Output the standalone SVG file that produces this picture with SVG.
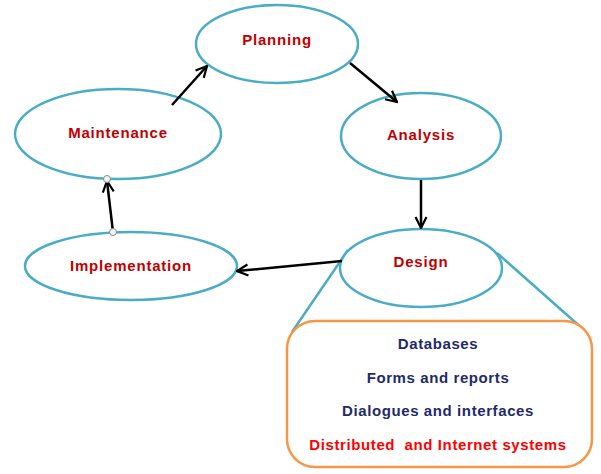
<svg xmlns="http://www.w3.org/2000/svg" width="601" height="474" viewBox="0 0 601 474">
<style>
.node ellipse{fill:#fff;stroke:#4bacc6;stroke-width:2.5}
.lbl{font-family:"Liberation Sans",Arial,sans-serif;font-weight:bold;font-size:15px;letter-spacing:0.8px;fill:#c00000;text-anchor:middle}
.item{font-family:"Liberation Sans",Arial,sans-serif;font-weight:bold;font-size:15px;letter-spacing:0.6px;fill:#1f2a6b;text-anchor:middle}
.conn line{stroke:#000;stroke-width:2.5;marker-end:url(#ah)}
</style>
<defs>
<marker id="ah" viewBox="0 0 10 10" refX="9" refY="5" markerWidth="5.5" markerHeight="5.5" markerUnits="strokeWidth" orient="auto">
<path d="M1,1 L9,5 L1,9" fill="none" stroke="#000" stroke-width="1.6"/>
</marker>
</defs>
<rect width="601" height="474" fill="#fff"/>
<g id="zoom-lines" fill="none" stroke="#4bacc6" stroke-width="2.5">
<line x1="348" y1="250" x2="292" y2="332"/>
<line x1="497" y1="253" x2="584" y2="330"/>
</g>
<g id="planning" class="node"><ellipse cx="277" cy="44" rx="81" ry="39"/><text class="lbl" x="277" y="45">Planning</text></g>
<g id="analysis" class="node"><ellipse cx="421" cy="136" rx="80" ry="43"/><text class="lbl" x="421" y="140">Analysis</text></g>
<g id="maintenance" class="node"><ellipse cx="118" cy="134" rx="103" ry="45"/><text class="lbl" x="118" y="138">Maintenance</text></g>
<g id="implementation" class="node"><ellipse cx="131" cy="266" rx="106" ry="34"/><text class="lbl" x="131" y="271">Implementation</text></g>
<g id="design" class="node"><ellipse cx="421" cy="268" rx="81" ry="39"/><text class="lbl" x="421" y="267">Design</text></g>
<g id="details">
<rect x="287" y="321" width="305" height="146" rx="28" fill="#fff" stroke="#f79646" stroke-width="2.5"/>
<text class="item" x="438" y="349">Databases</text>
<text class="item" x="438" y="383">Forms and reports</text>
<text class="item" x="438" y="416">Dialogues and interfaces</text>
<text class="item" x="438" y="450" xml:space="preserve" style="fill:#ff0000">Distributed  and Internet systems</text>
</g>
<g id="connectors" class="conn">
<line x1="172" y1="105" x2="207" y2="66"/>
<line x1="350" y1="63" x2="397" y2="102"/>
<line x1="421" y1="180" x2="421" y2="228"/>
<line x1="342" y1="261" x2="237" y2="271"/>
<line x1="113" y1="232" x2="107" y2="181"/>
</g>
<g id="handles" fill="#eef5f7" stroke="#888" stroke-width="1">
<circle cx="107" cy="179" r="3.5"/>
<circle cx="113" cy="232" r="3.5"/>
</g>
</svg>
